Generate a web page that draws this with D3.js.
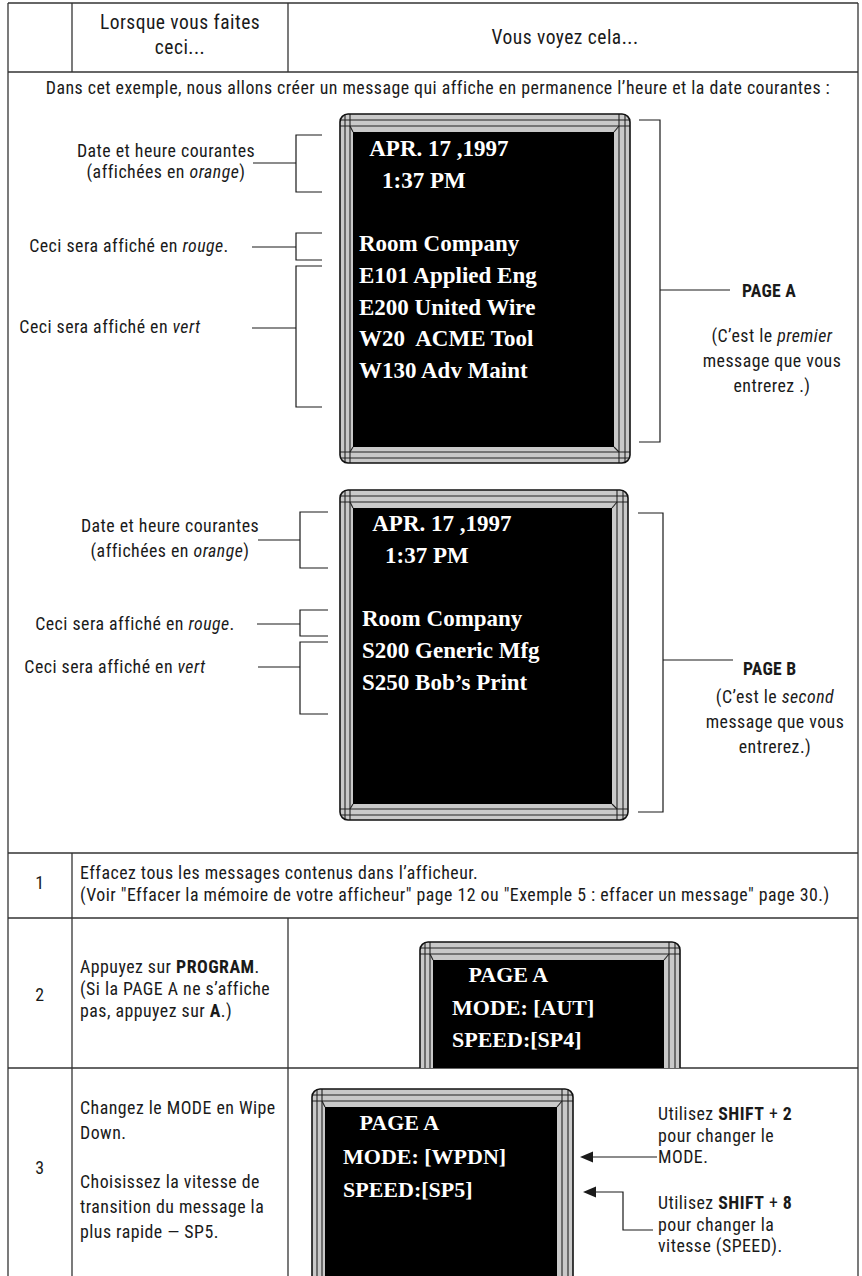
<!DOCTYPE html>
<html><head><meta charset="utf-8">
<script src="https://cdn.jsdelivr.net/npm/d3@7"></script>
<style>html,body{margin:0;padding:0;background:#fff}</style>
</head><body>
<script>
// ---------- content ----------
const headerLabels = ["Lorsque vous faites", "ceci...", "Vous voyez cela..."];
const introText = ["Dans cet exemple, nous allons créer un message qui affiche en permanence l’heure et la date courantes :"];
const screenPageA = ["  APR. 17 ,1997", "    1:37 PM", "", "Room Company", "E101 Applied Eng", "E200 United Wire", "W20  ACME Tool", "W130 Adv Maint"];
const screenPageB = ["  APR. 17 ,1997", "    1:37 PM", "", "Room Company", "S200 Generic Mfg", "S250 Bob’s Print"];
const screenStep2 = ["   PAGE A", "MODE: [AUT]", "SPEED:[SP4]"];
const screenStep3 = ["   PAGE A", "MODE: [WPDN]", "SPEED:[SP5]"];
const noteDate = ["Date et heure courantes", "(affichées en _orange_)"];
const noteRed = ["Ceci sera affiché en _rouge_."];
const noteGreen = ["Ceci sera affiché en _vert_"];
const pageLabels = ["PAGE A", "PAGE B"];
const pageNotes = [["(C’est le _premier_", "message que vous", "entrerez .)"],
                   ["(C’est le _second_", "message que vous", "entrerez.)"]];
const stepNumbers = ["1", "2", "3"];
const step1Text = ["Effacez tous les messages contenus dans l’afficheur.",
  "(Voir \"Effacer la mémoire de votre afficheur\" page 12 ou \"Exemple 5 : effacer un message\" page 30.)"];
const step2Text = ["Appuyez sur **PROGRAM**.", "(Si la PAGE A ne s’affiche", "pas, appuyez sur **A**.)"];
const step3Text = ["Changez le MODE en Wipe", "Down.", "", "Choisissez la vitesse de", "transition du message la", "plus rapide — SP5."];
const step3Hints = [["Utilisez **SHIFT** + **2**", "pour changer le", "MODE."],
                    ["Utilisez **SHIFT** + **8**", "pour changer la", "vitesse (SPEED)."]];

// ---------- setup ----------
const W = 862, H = 1276;
const SANS = "'Liberation Sans Narrow','Arial Narrow','Roboto Condensed',sans-serif";
const SERIF = "'Liberation Serif','Times New Roman',serif";
const INK = "#1a1a1a";
const SX = 0.93; // horizontal condensing of sans text
const svg = d3.select("body").append("svg").attr("width", W).attr("height", H)
  .style("display", "block");
const defs = svg.append("defs");

function parse(s) {
  return s.split(/(\*\*[^*]+\*\*|_[^_]+_)/).filter(p => p).map(p => {
    if (p.startsWith("**")) return {t: p.slice(2, -2), b: true};
    if (p.length > 2 && p.startsWith("_") && p.endsWith("_")) return {t: p.slice(1, -1), i: true};
    return {t: p};
  });
}
function label(g, x, y, str, o = {}) {
  const t = g.append("text").attr("transform", `translate(${x},${y}) scale(${o.sx || SX},1)`)
    .attr("font-family", o.family || SANS).attr("font-size", o.size || 19.2)
    .attr("text-anchor", o.anchor || "start").attr("fill", o.fill || INK)
    .attr("letter-spacing", o.ls === undefined ? 0.5 : o.ls)
    .attr("font-weight", o.weight || null).style("white-space", "pre");
  parse(str).forEach(p => {
    const s = t.append("tspan").text(p.t);
    if (p.b) s.attr("font-weight", "bold");
    if (p.i) s.attr("font-style", "italic");
  });
  return t;
}
const lineGen = d3.line();
function poly(g, pts, sw = 1.2, col = INK) {
  g.append("path").attr("d", lineGen(pts)).attr("fill", "none")
    .attr("stroke", col).attr("stroke-width", sw);
}

// ---------- table grid ----------
const L = 8, R = 858, T = 3, colA = 72, colB = 288;
const rowY = {head: 72, r1: 853, r2: 918, r3: 1068, end: H};
const grid = svg.append("g");
const gs = 1.3, gc = "#333";
poly(grid, [[L, T], [R, T]], gs, gc);
poly(grid, [[L, T], [L, H]], gs, gc);
poly(grid, [[R, T], [R, H]], gs, gc);
[rowY.head, rowY.r1, rowY.r2, rowY.r3].forEach(y => poly(grid, [[L, y], [R, y]], gs, gc));
poly(grid, [[colA, T], [colA, rowY.head]], gs, gc);
poly(grid, [[colB, T], [colB, rowY.head]], gs, gc);
poly(grid, [[colA, rowY.r1], [colA, H]], gs, gc);
poly(grid, [[colB, rowY.r2], [colB, H]], gs, gc);

// ---------- header ----------
const hd = svg.append("g");
label(hd, (colA + colB) / 2, 29, headerLabels[0], {anchor: "middle", size: 21});
label(hd, (colA + colB) / 2, 54, headerLabels[1], {anchor: "middle", size: 21});
label(hd, 565, 44, headerLabels[2], {anchor: "middle", size: 21});
label(hd, 438, 94, introText[0], {anchor: "middle"});

// ---------- LED frames ----------
let clipId = 0;
function drawFrame(g, f, lines, o) {
  const {x, y, w, h} = f;
  const fg = g.append("g");
  if (f.clipBottom) {
    const id = "cb" + (clipId++);
    defs.append("clipPath").attr("id", id).append("rect")
      .attr("x", x - 5).attr("y", y - 5).attr("width", w + 10).attr("height", f.clipBottom - y + 5);
    fg.attr("clip-path", `url(#${id})`);
  }
  const id2 = "fr" + (clipId++);
  defs.append("clipPath").attr("id", id2).append("rect")
    .attr("x", x).attr("y", y).attr("width", w).attr("height", h).attr("rx", 8);
  fg.append("rect").attr("x", x).attr("y", y).attr("width", w).attr("height", h).attr("rx", 8)
    .attr("fill", "#c9c9c9");
  const inner = fg.append("g").attr("clip-path", `url(#${id2})`);
  const sx0 = x + 13, sy0 = y + 18, sx1 = x + w - 16, sy1 = y + h - 16;
  [[sx0, sy0, x + 10, y + 12], [sx1, sy0, x + w - 11, y + 12],
   [sx0, sy1, x + 10, y + h - 11], [sx1, sy1, x + w - 11, y + h - 11]]
    .forEach(d => poly(inner, [[d[0], d[1]], [d[2], d[3]]], 1.1, "#222"));
  [x + 5, x + 10, x + w - 5, x + w - 11].forEach(vx => poly(inner, [[vx, y], [vx, y + h]], 1.1, "#222"));
  [y + 6, y + 12, y + h - 5, y + h - 11].forEach(hy => poly(inner, [[x, hy], [x + w, hy]], 1.1, "#222"));
  inner.append("rect").attr("x", sx0).attr("y", sy0).attr("width", sx1 - sx0).attr("height", sy1 - sy0)
    .attr("fill", "#000");
  fg.append("rect").attr("x", x).attr("y", y).attr("width", w).attr("height", h).attr("rx", 8)
    .attr("fill", "none").attr("stroke", "#111").attr("stroke-width", 1.6);
  const ys = d3.scaleLinear().domain([0, 1]).range([y + o.first, y + o.first + o.step]);
  lines.forEach((s, i) => {
    if (!s) return;
    g.append("text").attr("x", x + o.left).attr("y", ys(i))
      .attr("font-family", SERIF).attr("font-weight", "bold").attr("font-size", o.size)
      .attr("fill", "#fff").style("white-space", "pre").text(s);
  });
}
const frames = svg.append("g");
drawFrame(frames, {x: 340, y: 114, w: 290, h: 349}, screenPageA, {left: 19, first: 42, step: 31.7, size: 23});
drawFrame(frames, {x: 340, y: 490, w: 288, h: 330}, screenPageB, {left: 22, first: 41, step: 31.7, size: 23});
drawFrame(frames, {x: 420, y: 942, w: 260, h: 260, clipBottom: rowY.r3}, screenStep2, {left: 32, first: 40, step: 32.5, size: 22});
drawFrame(frames, {x: 312, y: 1089, w: 261, h: 260, clipBottom: H}, screenStep3, {left: 31, first: 41, step: 33.5, size: 22});

// ---------- annotations ----------
const an = svg.append("g");
function bracketLeft(g, lx0, ly, bx, y0, y1, armEnd) {
  poly(g, [[lx0, ly], [bx, ly]]);
  poly(g, [[armEnd, y0], [bx, y0], [bx, y1], [armEnd, y1]]);
}
label(an, 166, 157, noteDate[0], {anchor: "middle"});
label(an, 166, 178, noteDate[1], {anchor: "middle"});
bracketLeft(an, 253, 163, 296, 135, 192, 322);
label(an, 129, 252, noteRed[0], {anchor: "middle"});
bracketLeft(an, 252, 247, 296, 233, 260, 322);
label(an, 110, 333, noteGreen[0], {anchor: "middle"});
bracketLeft(an, 252, 328, 296, 266, 407, 322);
label(an, 170, 532, noteDate[0], {anchor: "middle"});
label(an, 170, 557, noteDate[1], {anchor: "middle"});
bracketLeft(an, 258, 540, 300, 512, 568, 328);
label(an, 135, 630, noteRed[0], {anchor: "middle"});
bracketLeft(an, 257, 624, 300, 610, 636, 328);
label(an, 115, 673, noteGreen[0], {anchor: "middle"});
bracketLeft(an, 258, 667, 300, 642, 714, 328);

function bracketRight(g, bx, y0, y1, armStart, ly, lx1) {
  poly(g, [[armStart, y0], [bx, y0], [bx, y1], [armStart, y1]]);
  poly(g, [[bx, ly], [lx1, ly]]);
}
bracketRight(an, 660, 120, 442, 639, 290, 730);
label(an, 742, 297, pageLabels[0], {weight: "bold", size: 19, ls: 0.3});
pageNotes[0].forEach((s, i) => label(an, 772, 342 + i * 25, s, {anchor: "middle"}));
bracketRight(an, 663, 513, 812, 638, 660, 733);
label(an, 743, 675, pageLabels[1], {weight: "bold", size: 19, ls: 0.3});
pageNotes[1].forEach((s, i) => label(an, 775, 703 + i * 25, s, {anchor: "middle"}));

// ---------- steps ----------
const st = svg.append("g");
label(st, 40, 889, stepNumbers[0], {anchor: "middle"});
label(st, 40, 1001, stepNumbers[1], {anchor: "middle"});
label(st, 40, 1174, stepNumbers[2], {anchor: "middle"});
step1Text.forEach((s, i) => label(st, 80, 879 + i * 21.5, s));
step2Text.forEach((s, i) => label(st, 80, 973 + i * 22, s));
const y3 = d3.scaleLinear().domain([0, 1]).range([1114, 1138.8]);
step3Text.forEach((s, i) => { if (s) label(st, 80, y3(i), s); });
step3Hints[0].forEach((s, i) => label(st, 658, 1120 + i * 21.5, s));
step3Hints[1].forEach((s, i) => label(st, 658, 1209 + i * 21.5, s));

function arrowHead(g, tx, ty) {
  g.append("path").attr("d", `M${tx},${ty}L${tx + 13},${ty - 5.5}L${tx + 13},${ty + 5.5}Z`).attr("fill", INK);
}
poly(st, [[590, 1157], [657, 1157]]);
arrowHead(st, 580, 1157);
poly(st, [[593, 1192], [623, 1192], [623, 1230], [653, 1230]]);
arrowHead(st, 583, 1192);
</script>
</body></html>
